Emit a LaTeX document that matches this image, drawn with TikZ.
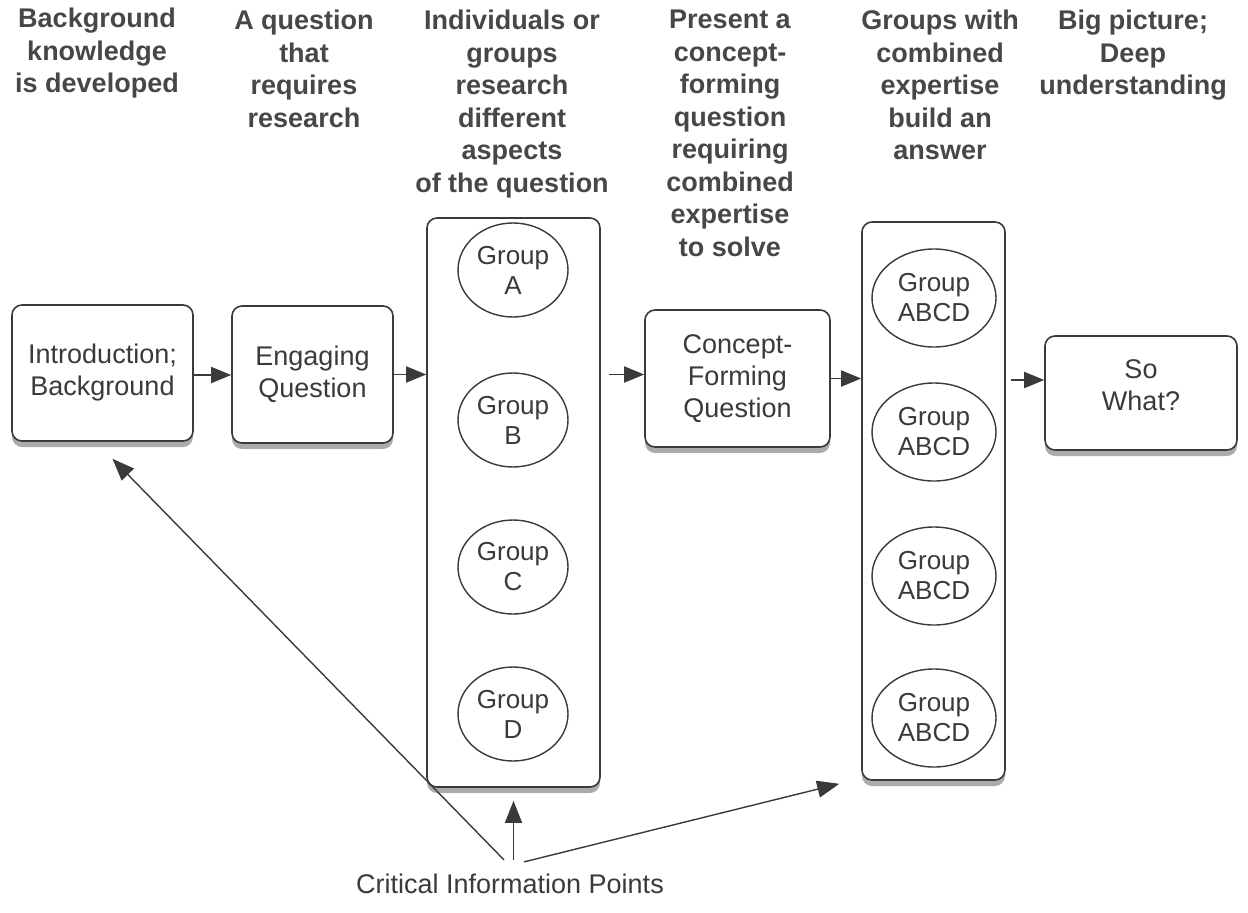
\documentclass[tikz,border=0pt]{standalone}
\usepackage{fontspec}
\setmainfont{Liberation Sans}
\usetikzlibrary{arrows.meta,shapes.geometric,shadows}
\definecolor{ink}{HTML}{3A3A3A}
\definecolor{headink}{HTML}{474747}
\tikzset{
  hdr/.style={anchor=north, align=center, inner sep=0pt, text=headink,
    font=\fontsize{27}{32.5}\selectfont\bfseries},
  stepbox/.style={draw=ink, line width=1.6pt, rounded corners=10pt, fill=white,
    align=center, text=ink, font=\fontsize{27}{32}\selectfont,
    drop shadow={shadow xshift=0pt, shadow yshift=-6pt, fill=black!60, opacity=0.55}},
  boxtext/.style={align=center, inner sep=0pt, text=ink, font=\fontsize{27}{32}\selectfont},
  colbox/.style={draw=ink, line width=1.6pt, rounded corners=10pt, fill=white,
    drop shadow={shadow xshift=0pt, shadow yshift=-6pt, fill=black!60, opacity=0.55}},
  grp/.style={ellipse, draw=ink, line width=1.4pt, inner sep=0pt, align=center,
    text=ink, font=\fontsize{26}{30}\selectfont},
  flow/.style={draw=ink, line width=1.8pt, -{Triangle[length=20pt,width=16pt]}},
  cip/.style={draw=ink, line width=1.4pt, -{Triangle[length=22pt,width=17pt]}}
}
\begin{document}
\begin{tikzpicture}[x=1pt,y=-1pt]
\path[use as bounding box] (0,0) rectangle (1248,913);

% headers
\node[hdr] (h1) at (97,8) {Background\\knowledge\\is developed};
\node[hdr] (h2) at (304,10) {A question\\that\\requires\\research};
\node[hdr] (h3) at (512,10) {Individuals or\\groups\\research\\different\\aspects\\of the question};
\node[hdr] (h4) at (730,10) {Present a\\concept-\\forming\\question\\requiring\\combined\\expertise\\to solve};
\node[hdr] (h5) at (940,10) {Groups with\\combined\\expertise\\build an\\answer};
\node[hdr] (h6) at (1133,10) {Big picture;\\Deep\\understanding};

% step boxes
\node[stepbox, minimum width=181pt, minimum height=136pt] (intro) at (102.5,373) {Introduction;\\Background};
\node[stepbox, minimum width=161pt, minimum height=137pt] (eng) at (312.5,374.5) {Engaging\\Question};
\node[stepbox, minimum width=185pt, minimum height=137pt] (concept) at (737.5,378.5) {Concept-\\Forming\\Question};
\node[stepbox, minimum width=192pt, minimum height=114pt] (sowhat) at (1141,393) {};
\node[boxtext] (sowhatlbl) at ([yshift=8pt]sowhat.center) {So\\What?};

% columns
\node[colbox, minimum width=173pt, minimum height=569pt] (col1) at (513.5,502.5) {};
\node[colbox, minimum width=143pt, minimum height=558pt] (col2) at (933.5,501) {};

% group ellipses
\node[grp, minimum width=110pt, minimum height=94pt] (ga) at (513,270) {Group\\A};
\node[grp, minimum width=110pt, minimum height=94pt] (gb) at (513,420) {Group\\B};
\node[grp, minimum width=110pt, minimum height=94pt] (gc) at (513,567) {Group\\C};
\node[grp, minimum width=110pt, minimum height=94pt] (gd) at (513,714) {Group\\D};

\node[grp, minimum width=124pt, minimum height=98pt] (g1) at (934,298) {Group\\ABCD};
\node[grp, minimum width=124pt, minimum height=98pt] (g2) at (934,432) {Group\\ABCD};
\node[grp, minimum width=124pt, minimum height=98pt] (g3) at (934,576) {Group\\ABCD};
\node[grp, minimum width=124pt, minimum height=98pt] (g4) at (934,718) {Group\\ABCD};

% flow arrows
\draw[flow] ([yshift=-2pt]intro.east) -- ([yshift=-2pt]intro.east -| eng.west);
\draw[flow] (eng.east) -- (eng.east -| col1.west);
\draw[flow] ([xshift=8pt,yshift=4pt]col1.east |- concept.west) -- ([yshift=4pt]concept.west);
\draw[flow] (concept.east) -- (concept.east -| col2.west);
\draw[flow] ([xshift=5pt,yshift=13pt]col2.east |- sowhat.west) -- ([yshift=13pt]sowhat.west);

% critical information points
\node[inner sep=0pt, text=ink, font=\fontsize{27}{32}\selectfont] (cip) at (510,884) {Critical Information Points};
\draw[cip] ([xshift=-6pt,yshift=14pt]cip.north) -- ([shift={(10,17)}]intro.south);
\draw[cip] ([yshift=14pt]cip.north -| col1.south) -- ([yshift=-13pt]col1.south);
\draw[cip] ([xshift=14pt,yshift=12pt]cip.north) -- ([shift={(-22,3)}]col2.south west);
\end{tikzpicture}
\end{document}
